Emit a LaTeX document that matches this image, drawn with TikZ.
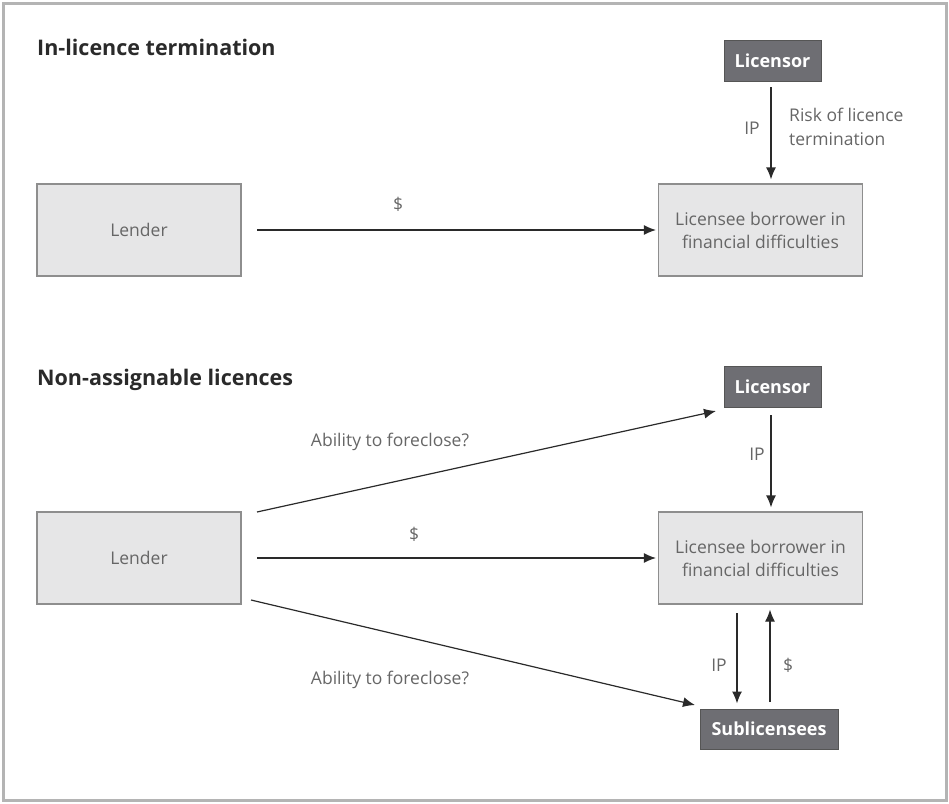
\documentclass[tikz,border=0pt]{standalone}
\usepackage{fontspec}
\setmainfont{Open Sans}
\usetikzlibrary{arrows.meta}
\definecolor{frame}{HTML}{B4B4B4}
\definecolor{lightbox}{HTML}{E6E6E7}
\definecolor{lightedge}{HTML}{8E8E8E}
\definecolor{darkbox}{HTML}{6E6E73}
\definecolor{darkedge}{HTML}{555555}
\definecolor{soft}{HTML}{666666}
\definecolor{ink}{HTML}{2A2A2A}
\begin{document}
\begin{tikzpicture}[x=1pt,y=-1pt,
  party/.style={draw=lightedge,line width=1.2pt,fill=lightbox,minimum width=204pt,minimum height=92pt,
    inner sep=0pt,align=center,text=soft,font=\fontsize{17.5}{23}\selectfont},
  holder/.style={draw=darkedge,line width=1pt,fill=darkbox,minimum height=41pt,inner sep=0pt,
    text=white,font=\fontsize{18}{22}\selectfont\bfseries},
  flow/.style={draw=ink,line width=1.2pt,-{Latex[length=12pt,width=10pt]}},
  lbl/.style={text=soft,font=\fontsize{17.5}{24}\selectfont,inner sep=0pt,align=left},
  heading/.style={anchor=west,inner sep=0pt,text=ink,font=\fontsize{21.5}{26}\selectfont\bfseries}]
\useasboundingbox (0,0) rectangle (949,803);
\draw[frame,line width=3pt] (3,3) rectangle (946,800);

% upper scheme: in-licence termination
\node[heading] (t1) at (37,47) {In-licence termination};
\node[holder,minimum width=97pt] (lic1) at (772.5,60.5) {Licensor};
\node[party] (lee1) at (760.5,230) {Licensee borrower in\\financial difficulties};
\node[party] (len1) at (139,230) {Lender};
\coordinate (a1) at (771,87);
\draw[flow,shorten >=4pt] (a1) -- (lee1.north -| a1);
\node[lbl] (ip1) at (752,128) {IP};
\node[lbl,anchor=north west] (risk) at (789,108) {Risk of licence\\termination};
\coordinate (b1) at (257,230);
\draw[flow,shorten >=2pt] (b1) -- (lee1.west);
\node[lbl] (d1) at (398,204) {\$};

% lower scheme: non-assignable licences
\node[heading] (t2) at (37,380) {Non-assignable licences};
\node[holder,minimum width=97pt] (lic2) at (772.5,386.5) {Licensor};
\node[party] (lee2) at (760.5,558) {Licensee borrower in\\financial difficulties};
\node[party] (len2) at (139,558) {Lender};
\node[holder,minimum width=138pt,minimum height=40pt] (sub) at (769,729) {Sublicensees};

\coordinate (a2) at (771,415);
\draw[flow,shorten >=4pt] (a2) -- (lee2.north -| a2);
\node[lbl] (ip2) at (757,454) {IP};

\coordinate (b2) at (257,558);
\draw[flow,shorten >=2pt] (b2) -- (lee2.west);
\node[lbl] (d2) at (414,534) {\$};

\coordinate (c2) at (257,512);
\coordinate (c2e) at (716,411);
\draw[flow] (c2) -- (c2e);
\node[lbl] (q1) at (390,442) {Ability to foreclose?};

\coordinate (e2) at (251,600);
\coordinate (e2e) at (695,705);
\draw[flow] (e2) -- (e2e);
\node[lbl] (q2) at (390,680) {Ability to foreclose?};

\coordinate (f2) at (737,613);
\draw[flow,shorten >=5pt] (f2) -- (sub.north -| f2);
\node[lbl] (ip3) at (719,665) {IP};
\coordinate (g2) at (770,702);
\draw[flow,shorten >=5pt] (g2) -- (lee2.south -| g2);
\node[lbl] (d3) at (788,665) {\$};
\end{tikzpicture}
\end{document}
